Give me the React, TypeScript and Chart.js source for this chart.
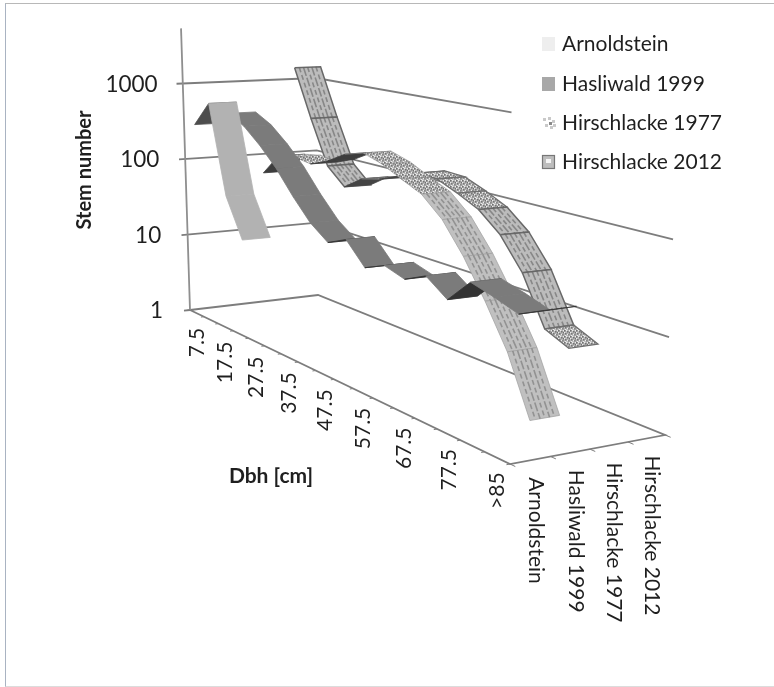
import React, { useEffect, useRef } from "react";
import { Chart, registerables } from "chart.js";

Chart.register(...registerables);

const dbhCategories = ["7.5", "12.5", "17.5", "22.5", "27.5", "32.5", "37.5", "42.5", "47.5", "52.5", "57.5", "62.5", "67.5", "72.5", "77.5", "82.5", ">85"];
const seriesNames = ["Arnoldstein", "Hasliwald 1999", "Hirschlacke 1977", "Hirschlacke 2012"];
const arnoldstein = [300, 630, 46, 15, null, null, null, null, null, null, null, null, null, null, null, null, null];
const hasliwald1999 = [400, 300, 190, 110, 56, 31, 21, 27, 15, 19, 16, 21, 14, 26, 22, 18, 24];
const hirschlacke1977 = [60, 115, 126, 117, 145, 200, 234, 196, 148, 114, 68, 31, 12, 4.2, 1, null, null];
const hirschlacke2012 = [1500, 340, 90, 55, 80, 91, 114, 142, 138, 108, 81, 49, 22, 6.5, 5, null, null];
const stemTicks = ["1", "10", "100", "1000"];

const allSeries = [arnoldstein, hasliwald1999, hirschlacke1977, hirschlacke2012];

type P = { x: number; y: number };
const FONT = "Lato, 'Open Sans', sans-serif";

// perspective of the Excel-style 3-D box
function project(u: number, v: number, h: number): P {
  const w = 1 - 0.272 * u + 0.0437 * v;
  const x = (181.3 * u + 141.9 * v + 190) / w;
  const y = (27.8 * u - 2.1 * v + 310) / w;
  return { x: x + (x - 368) * 0.0135 * h, y: y - (75.5 / w) * h };
}

const uOf = (k: number) => (k + 0.5) / dbhCategories.length;
const RIBBON_IN = 0.1;
const RIBBON_OUT = 0.9;

const looks = [
  { top: "#b2b2b2", under: "#4d4d4d", edge: "#b2b2b2", hatch: null, speckle: false },
  { top: "#7b7b7b", under: "#333333", edge: "#7b7b7b", hatch: null, speckle: false },
  { top: "#c0c0c0", under: "#3d3d3d", edge: "#a3a3a3", hatch: "rgba(115,115,115,0.6)", speckle: true },
  { top: "#bcbcbc", under: "#444444", edge: "#686868", hatch: "rgba(100,100,100,0.6)", speckle: true },
];

function makeSpeckle(): CanvasPattern | string {
  const c = document.createElement("canvas");
  c.width = 6;
  c.height = 6;
  const g = c.getContext("2d");
  if (!g) return "#b4b4b4";
  g.fillStyle = "#b6b6b6";
  g.fillRect(0, 0, 6, 6);
  g.fillStyle = "#707070";
  [[0, 0], [3, 1], [1, 3], [4, 4], [5, 2]].forEach(([x, y]) => g.fillRect(x, y, 1.5, 1.5));
  g.fillStyle = "#ececec";
  [[2, 0], [5, 0], [0, 2], [3, 4], [1, 5]].forEach(([x, y]) => g.fillRect(x, y, 1.2, 1.2));
  return g.createPattern(c, "repeat") || "#b4b4b4";
}

function lineSet(points: P[], color: string, width = 1.6, dash: number[] = []) {
  return {
    data: points,
    showLine: true,
    fill: false,
    pointRadius: 0,
    borderColor: color,
    borderWidth: width,
    borderDash: dash,
    tension: 0,
    clip: false,
  };
}

function polySet(points: P[], fillStyle: any, edge: string, width = 0.8) {
  return {
    data: [...points, points[0]],
    showLine: true,
    fill: "shape",
    backgroundColor: fillStyle,
    pointRadius: 0,
    borderColor: edge,
    borderWidth: width,
    tension: 0,
    clip: false,
  };
}

function buildBox() {
  const sets: any[] = [];
  const GRID = "#7d7d7d";
  [1, 2, 3].forEach((h) => {
    const end = h === 3 ? 0.615 : 1;
    sets.push(lineSet([project(0, -0.045, h), project(0, 1, h), project(end, 1, h)], GRID, 1.8));
  });
  sets.push(lineSet([project(0, -0.045, 0), project(0, 0, 0), project(0, 1, 0), project(1, 1, 0), project(1, 0, 0), project(0, 0, 0)], GRID, 1.8));
  sets.push(lineSet([project(0, 0, 0), project(0, 0, 3.73)], "#8f8f8f", 1.8));
  for (let k = 0; k <= dbhCategories.length; k++) {
    const u = k / dbhCategories.length;
    sets.push(lineSet([project(u, 0, 0), project(u, -0.022, 0)], GRID, 1));
  }
  for (let s = 0; s <= seriesNames.length; s++) {
    const v = s / seriesNames.length;
    sets.push(lineSet([project(1, v, 0), project(1.012, v, 0)], GRID, 1));
  }
  return sets;
}

function buildRibbons(speckle: CanvasPattern | string) {
  const sets: any[] = [];
  const n = seriesNames.length;
  for (let s = n - 1; s >= 0; s--) {
    const vals = allSeries[s];
    const look = looks[s];
    const v0 = (s + RIBBON_IN) / n;
    const v1 = (s + RIBBON_OUT) / n;
    for (let k = 0; k < vals.length - 1; k++) {
      const a = vals[k];
      const b = vals[k + 1];
      if (a == null || b == null) continue;
      const ha = Math.log10(a);
      const hb = Math.log10(b);
      const f0 = project(uOf(k), v0, ha);
      const f1 = project(uOf(k + 1), v0, hb);
      const b1 = project(uOf(k + 1), v1, hb);
      const b0 = project(uOf(k), v1, ha);
      const poly = [f0, f1, b1, b0];
      let area = 0;
      poly.forEach((p, i) => {
        const q = poly[(i + 1) % 4];
        area += p.x * q.y - q.x * p.y;
      });
      const underside = area > 0;
      const slope = Math.abs((f1.y - f0.y) / (f1.x - f0.x));
      const shallow = slope < 1.05;
      if (underside) {
        sets.push(polySet(poly, look.under, look.under));
      } else if (look.speckle && shallow) {
        sets.push(polySet(poly, speckle, s === 3 ? "#6e6e6e" : "rgba(130,130,130,0.6)", s === 3 ? 1.3 : 0.8));
      } else {
        sets.push(polySet(poly, look.top, look.edge, s === 3 ? 1.5 : 0.8));
        if (look.hatch) {
          [0.18, 0.34, 0.5, 0.66, 0.82].forEach((t, i) => {
            const v = v0 + (v1 - v0) * t;
            sets.push(
              lineSet(
                [project(uOf(k), v, ha), project(uOf(k + 1), v, hb)],
                look.hatch as string,
                1.6,
                i % 2 ? [9, 2] : [5, 3]
              )
            );
          });
        }
      }
    }
  }
  return sets;
}

const textPlugin = {
  id: "boxText",
  afterDatasetsDraw(chart: any) {
    const c = chart.ctx as CanvasRenderingContext2D;
    c.save();
    c.fillStyle = "#1f1f1f";
    c.textBaseline = "middle";

    // stem-number ticks
    c.font = `22.5px ${FONT}`;
    c.textAlign = "right";
    stemTicks.forEach((t, i) => {
      const p = project(0, 0, i);
      c.fillText(t, p.x - 27 + i * 0.6, p.y + 1);
    });

    // dbh labels, every second category
    c.font = `21px ${FONT}`;
    dbhCategories.forEach((label, k) => {
      if (k % 2) return;
      const p = project(uOf(k), 0, 0);
      c.save();
      c.translate(p.x, p.y + 14.5);
      c.rotate(-Math.PI / 2);
      c.textAlign = "right";
      c.fillText(label, 0, 0);
      c.restore();
    });

    // series labels
    c.font = `21px ${FONT}`;
    seriesNames.forEach((label, s) => {
      const p = project(1, (s + 0.5) / seriesNames.length, 0);
      c.save();
      c.translate(p.x + 5, p.y + 17);
      c.rotate(Math.PI / 2);
      c.textAlign = "left";
      c.fillText(label, 0, 0);
      c.restore();
    });

    // axis titles
    c.font = `bold 20px ${FONT}`;
    c.textAlign = "center";
    c.save();
    c.translate(85, 170);
    c.rotate(-Math.PI / 2);
    c.fillText("Stem number", 0, 0);
    c.restore();
    c.font = `bold 21px ${FONT}`;
    c.fillText("Dbh [cm]", 271, 476);

    // legend
    const rows = [44, 84, 123, 162];
    c.font = `21px ${FONT}`;
    c.textAlign = "left";
    seriesNames.forEach((label, s) => {
      const y = rows[s];
      if (s === 0) {
        c.fillStyle = "#eeeeee";
        c.fillRect(542, y - 7, 13, 14);
      } else if (s === 1) {
        c.fillStyle = "#a8a8a8";
        c.fillRect(542, y - 7, 13, 14);
      } else if (s === 2) {
        c.fillStyle = "#c9c9c9";
        [[543, y - 5], [548, y - 6], [552, y - 3], [545, y + 1], [550, y + 3], [553, y + 1]].forEach(([x, yy]) => c.fillRect(x, yy, 3, 3));
        c.fillStyle = "#8a8a8a";
        c.fillRect(549, y - 1, 3, 3);
      } else {
        c.fillStyle = "#bdbdbd";
        c.fillRect(542, y - 7, 13, 14);
        c.strokeStyle = "#777777";
        c.lineWidth = 1.2;
        c.strokeRect(542.5, y - 6.5, 12, 13);
        c.fillStyle = "#f5f5f5";
        c.fillRect(546, y - 3, 5, 4);
      }
      c.fillStyle = "#1f1f1f";
      c.fillText(label, 562, y);
    });
    c.restore();
  },
};

export default function App() {
  const ref = useRef<HTMLCanvasElement | null>(null);
  useEffect(() => {
    if (!ref.current) return;
    const sets = [...buildBox(), ...buildRibbons(makeSpeckle())];
    const chart = new Chart(ref.current, {
      type: "scatter",
      data: { datasets: sets.reverse() },
      options: {
        animation: false,
        responsive: false,
        events: [],
        layout: { padding: 0 },
        plugins: { legend: { display: false }, tooltip: { enabled: false }, title: { display: false } },
        scales: {
          x: { type: "linear", min: 0, max: 774, display: false },
          y: { type: "linear", min: 0, max: 687, reverse: true, display: false },
        },
      },
      plugins: [textPlugin],
    } as any);
    return () => chart.destroy();
  }, []);
  return (
    <div style={{ position: "absolute", left: 0, top: 0, width: 774, height: 687, overflow: "hidden", background: "#fff" }}>
      <div
        style={{
          position: "absolute",
          left: 5,
          top: 3,
          width: 780,
          height: 682,
          borderLeft: "1.5px solid #a9b3c2",
          borderTop: "1.5px solid #b8b8b8",
          borderBottom: "1.5px solid #dcdcdc",
        }}
      />
      <canvas
        ref={ref}
        width={774}
        height={687}
        style={{ position: "absolute", left: 0, top: 0, width: 774, height: 687, filter: "blur(0.7px)" }}
      />
    </div>
  );
}
